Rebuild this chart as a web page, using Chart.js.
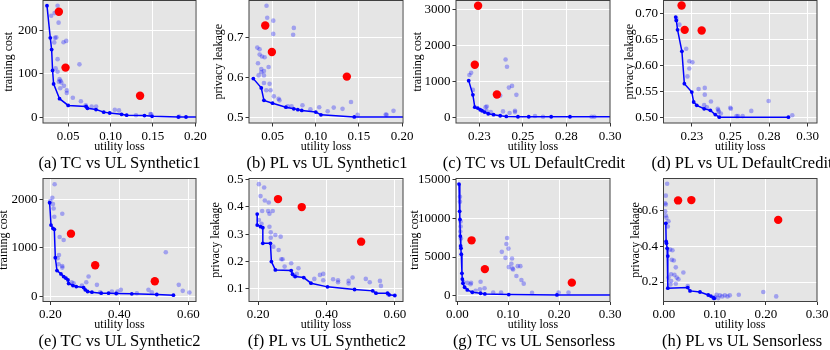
<!DOCTYPE html>
<html>
<head>
<meta charset="utf-8">
<script src="https://cdn.jsdelivr.net/npm/chart.js@4"></script>
<style>
  body { margin: 0; width: 830px; height: 350px; overflow: hidden; background: #fff; position: relative; font-family: 'Liberation Serif', 'Times New Roman', serif; }
  canvas { position: absolute; }
  .cap { position: absolute; font-size: 16.5px; line-height: 19px; white-space: nowrap; transform: translateX(-50%); color: #000; }
</style>
</head>
<body>
<script>
// ---- data (utility loss, cost / leakage) ----
// Pareto fronts (blue line), all other configs (light dots), baselines (red)
const aFront = [[0.025,257],[0.0289,183],[0.0305,156],[0.0316,108],[0.0328,77],[0.0398,43],[0.05,27.5],[0.0711,25],[0.0727,21],[0.0828,18],[0.092,12],[0.099,10],[0.113,7],[0.119,5],[0.140,4],[0.149,2.3],[0.18,0.8],[0.189,0.8],[0.215,0.5]];
const aCloud = [[0.030,234],[0.034,240],[0.0375,257],[0.0387,218],[0.0344,183],[0.0336,172.5],[0.036,184],[0.0445,173],[0.0477,176],[0.0375,134],[0.0352,113],[0.0375,105],[0.0398,88],[0.041,84],[0.042,80],[0.039,82],[0.045,72.5],[0.0406,67],[0.0484,62],[0.0484,56],[0.0555,45],[0.0633,122],[0.065,37],[0.0707,28],[0.0777,25],[0.083,25],[0.105,17.5],[0.11,16],[0.13,5],[0.147,7.6],[0.148,7],[0.181,2]];
const aRed = [[0.039,243],[0.0469,114.5],[0.1348,49.6]];

const bFront = [[0.0277,0.597],[0.0369,0.574],[0.040,0.543],[0.05,0.536],[0.0654,0.526],[0.0746,0.522],[0.0792,0.520],[0.0838,0.518],[0.10,0.514],[0.106,0.507],[0.1446,0.502],[0.215,0.502]];
const bCloud = [[0.043,0.778],[0.0438,0.748],[0.0508,0.741],[0.0508,0.708],[0.0746,0.723],[0.0738,0.706],[0.0323,0.674],[0.035,0.670],[0.035,0.657],[0.0377,0.652],[0.0408,0.650],[0.0331,0.635],[0.0369,0.621],[0.04,0.616],[0.0454,0.626],[0.0369,0.613],[0.0338,0.605],[0.04,0.605],[0.0465,0.584],[0.04,0.586],[0.0427,0.568],[0.0477,0.568],[0.0515,0.553],[0.057,0.547],[0.058,0.543],[0.0677,0.528],[0.072,0.528],[0.0846,0.531],[0.0938,0.521],[0.104,0.526],[0.1138,0.516],[0.1208,0.525],[0.131,0.522],[0.1408,0.539],[0.1485,0.507],[0.181,0.508],[0.182,0.507],[0.19,0.517]];
const bRed = [[0.0415,0.729],[0.0492,0.663],[0.136,0.602]];

const cFront = [[0.2188,1021],[0.2212,626],[0.2223,285],[0.224,258],[0.2254,212],[0.2265,184],[0.2279,147],[0.23,101],[0.2331,74],[0.2369,46],[0.2404,28],[0.2471,18],[0.2533,18],[0.2662,18],[0.277,18],[0.31,18]];
const cCloud = [[0.2192,1178],[0.2202,1242],[0.2212,764],[0.2285,285],[0.2292,304],[0.2369,607],[0.24,1610],[0.2408,1408],[0.2419,828],[0.2437,874],[0.2462,626],[0.2454,184],[0.2454,147],[0.2315,147],[0.2385,166],[0.2423,120],[0.2569,37],[0.2615,18],[0.2894,18],[0.291,18],[0.229,184]];
const cRed = [[0.2242,3100],[0.2223,1463],[0.235,635]];

const dFront = [[0.2146,0.6924],[0.215,0.686],[0.2158,0.668],[0.2186,0.627],[0.2202,0.565],[0.225,0.549],[0.2262,0.530],[0.2282,0.5236],[0.233,0.517],[0.237,0.514],[0.2402,0.506],[0.2428,0.501],[0.2875,0.501]];
const dCloud = [[0.217,0.678],[0.215,0.689],[0.2214,0.632],[0.2234,0.608],[0.2254,0.606],[0.2234,0.594],[0.2222,0.579],[0.2294,0.555],[0.2334,0.557],[0.2334,0.544],[0.2374,0.531],[0.233,0.524],[0.2348,0.520],[0.2418,0.517],[0.2422,0.514],[0.2424,0.511],[0.2438,0.508],[0.2499,0.519],[0.2503,0.517],[0.2539,0.503],[0.2549,0.503],[0.2579,0.503],[0.2635,0.513],[0.2747,0.532],[0.29,0.5045]];
const dRed = [[0.2184,0.7147],[0.2204,0.668],[0.2314,0.6669]];

const eFront = [[0.198,1932],[0.202,1473],[0.2077,1404],[0.2116,1384],[0.2145,801],[0.2193,534],[0.2308,466],[0.2386,411],[0.2453,377],[0.2511,342],[0.253,267],[0.2655,226],[0.2752,205],[0.2964,185],[0.3012,137],[0.308,103],[0.3205,89],[0.3475,68],[0.3687,68],[0.3908,62],[0.436,55],[0.5084,41],[0.5566,27]];
const eCloud = [[0.2125,2315],[0.2058,2034],[0.2077,1904],[0.2096,1815],[0.2116,1644],[0.2,1966],[0.2347,1705],[0.227,1226],[0.2386,1164],[0.2251,856],[0.2212,788],[0.2347,630],[0.2347,596],[0.2241,664],[0.2617,295],[0.2675,274],[0.3041,295],[0.3108,411],[0.335,240],[0.3783,103],[0.3947,103],[0.4043,137],[0.4506,68],[0.4843,137],[0.494,89],[0.5345,911],[0.5721,240],[0.5836,116],[0.6029,82],[0.3446,89],[0.2916,226]];
const eRed = [[0.2598,1295],[0.330,644],[0.5027,315]];

const fFront = [[0.197,0.3736],[0.197,0.3334],[0.2068,0.3274],[0.2135,0.3237],[0.2135,0.2666],[0.2357,0.2666],[0.2386,0.1997],[0.2502,0.1693],[0.2966,0.1669],[0.3005,0.1535],[0.3082,0.145],[0.3333,0.1413],[0.3546,0.1207],[0.403,0.1073],[0.4821,0.0976],[0.5353,0.0927],[0.545,0.0842],[0.5787,0.0842],[0.5836,0.0781],[0.60,0.0757]];
const fCloud = [[0.2019,0.483],[0.2174,0.4708],[0.2068,0.4392],[0.2193,0.4234],[0.2309,0.4161],[0.229,0.3845],[0.2329,0.3748],[0.2425,0.3845],[0.2116,0.3845],[0.2019,0.3517],[0.2096,0.3383],[0.2329,0.3274],[0.2367,0.3067],[0.2502,0.297],[0.2657,0.2909],[0.2367,0.2872],[0.2444,0.2544],[0.2599,0.2423],[0.2676,0.2082],[0.2715,0.2082],[0.2773,0.1815],[0.2966,0.1936],[0.3179,0.1754],[0.3131,0.1547],[0.3063,0.1474],[0.3643,0.1365],[0.3807,0.1511],[0.3904,0.1547],[0.3904,0.1316],[0.4193,0.1353],[0.4338,0.1316],[0.4338,0.1243],[0.4647,0.1292],[0.4647,0.1195],[0.4763,0.1413],[0.515,0.1365],[0.5266,0.1243],[0.5565,0.1292],[0.5594,0.1109],[0.5807,0.0805]];
const fRed = [[0.258,0.4283],[0.3275,0.3991],[0.5014,0.2726]];

const gFront = [[0.0033,14400],[0.0046,10900],[0.0052,9840],[0.0059,7710],[0.0065,6430],[0.0072,6130],[0.0078,5370],[0.0091,2900],[0.0098,2170],[0.0111,1620],[0.0144,1110],[0.0196,770],[0.0294,470],[0.0457,340],[0.0541,255],[0.1011,170],[0.1957,128],[0.31,110]];
const gCloud = [[0.0052,12780],[0.0052,12140],[0.0065,9585],[0.0065,8946],[0.0059,8300],[0.0072,7400],[0.026,1490],[0.0457,1830],[0.0535,980],[0.0705,426],[0.086,426],[0.027,1700],[0.0117,1830],[0.0196,1700],[0.0978,7455],[0.0965,6690],[0.1005,6090],[0.0874,5670],[0.0946,4900],[0.1011,3710],[0.1063,4130],[0.1076,4810],[0.1083,3540],[0.1096,3410],[0.1187,3830],[0.1239,3830],[0.1161,2560],[0.1259,2045],[0.1305,1576],[0.1468,383],[0.199,426],[0.2185,426],[0.0444,850],[0.0359,640]];
const gRed = [[0.028,7157],[0.0541,3450],[0.225,1704]];

const hFront = [[0.0039,0.5308],[0.0045,0.4288],[0.0052,0.419],[0.0065,0.390],[0.0078,0.346],[0.0078,0.1654],[0.0468,0.169],[0.0513,0.150],[0.0708,0.144],[0.087,0.127],[0.0922,0.121],[0.0968,0.1115],[0.0987,0.1077]];
const hCloud = [[0.0065,0.7538],[0.0039,0.6865],[0.0026,0.644],[0.0039,0.6365],[0.0026,0.598],[0.0039,0.575],[0.0052,0.5615],[0.0091,0.542],[0.0078,0.513],[0.0123,0.3827],[0.0169,0.3788],[0.0156,0.325],[0.0195,0.3212],[0.0234,0.2827],[0.0383,0.2538],[0.0091,0.225],[0.0143,0.2442],[0.0208,0.2404],[0.0253,0.225],[0.0143,0.2058],[0.013,0.1865],[0.0234,0.1904],[0.0286,0.2154],[0.0468,0.177],[0.1,0.1135],[0.1032,0.1288],[0.1097,0.125],[0.1143,0.1192],[0.1195,0.125],[0.1247,0.1192],[0.1292,0.125],[0.1468,0.1288],[0.1948,0.1442],[0.2201,0.1192],[0.1065,0.1096]];
const hRed = [[0.0279,0.6596],[0.0539,0.6615],[0.224,0.55]];

// ---- ticks ----
const xTicksSyn1 = [0.05, 0.10, 0.15, 0.20];
const xLabelsSyn1 = ['0.05', '0.10', '0.15', '0.20'];
const xTicksCredit = [0.225, 0.25, 0.275, 0.30];
const xLabelsCredit = ['0.23', '0.25', '0.28', '0.30'];
const xTicksSyn2 = [0.2, 0.4, 0.6];
const xLabelsSyn2 = ['0.20', '0.40', '0.60'];
const xTicksSens = [0, 0.1, 0.2, 0.3];
const xLabelsSens = ['0.00', '0.10', '0.20', '0.30'];

const yTicksA = [0, 100, 200];
const yTicksB = [0.5, 0.6, 0.7];
const yTicksC = [0, 1000, 2000, 3000];
const yTicksD = [0.50, 0.55, 0.60, 0.65, 0.70];
const yTicksE = [0, 1000, 2000];
const yTicksF = [0.1, 0.2, 0.3, 0.4, 0.5];
const yTicksG = [0, 5000, 10000, 15000];
const yTicksH = [0.2, 0.4, 0.6];

const captions = ['(a) TC vs UL Synthetic1', '(b) PL vs UL Synthetic1', '(c) TC vs UL DefaultCredit', '(d) PL vs UL DefaultCredit',
                  '(e) TC vs UL Synthetic2', '(f) PL vs UL Synthetic2', '(g) TC vs UL Sensorless', '(h) PL vs UL Sensorless'];

Chart.defaults.font.family = "'Liberation Serif', 'Times New Roman', serif";
Chart.defaults.color = '#000';

const colL = [43, 249, 456, 663.5], colR = [196, 403, 610, 817];
const rowT = [0.5, 178.5], rowB = [123, 301.5];
const capX = [119.5, 327, 534, 742], capY = [163, 341];

// grey panel + dark frame
const frame = {
  id: 'frame',
  beforeDraw(chart) {
    const { ctx, chartArea: a } = chart;
    ctx.save();
    ctx.fillStyle = '#e5e5e5';
    ctx.fillRect(a.left, a.top, a.width, a.height);
    ctx.restore();
  },
  afterDraw(chart) {
    const { ctx, chartArea: a } = chart;
    ctx.save();
    ctx.strokeStyle = '#404040';
    ctx.lineWidth = 1;
    ctx.strokeRect(a.left, a.top, a.width, a.height);
    ctx.restore();
  }
};

const pts = arr => arr.map(([x, y]) => ({ x, y }));

function panel(col, row, p) {
  const L = colL[col], R = colR[col], T = rowT[row], B = rowB[row];
  const xH = 31;
  const left = Math.floor(L - (p.tOff + 7.2));
  const top = Math.floor(T - 10);
  const yW = L - left;
  const width = Math.ceil(R - left + 16);
  const height = Math.ceil(B - top + xH + 2);
  const padR = width - (R - left);
  const padT = T - top;
  const padB = height - (B - top) - xH;

  const cv = document.createElement('canvas');
  cv.width = width; cv.height = height;
  cv.style.left = left + 'px'; cv.style.top = top + 'px';
  cv.style.width = width + 'px'; cv.style.height = height + 'px';
  document.body.appendChild(cv);

  const tickFont = { size: 13 };
  new Chart(cv, {
    type: 'scatter',
    data: {
      datasets: [
        { data: pts(p.red), backgroundColor: '#ff0000', pointRadius: 4.2, pointBorderWidth: 0, order: 0 },
        { data: pts(p.front), showLine: true, borderColor: '#0000ff', borderWidth: 1.5, backgroundColor: '#0000ff',
          pointRadius: 1.9, pointBorderWidth: 0, order: 1 },
        { data: pts(p.cloud), backgroundColor: 'rgba(0,0,255,0.3)', pointRadius: 2.3, pointBorderWidth: 0, order: 2 }
      ]
    },
    options: {
      responsive: false,
      animation: false,
      devicePixelRatio: 1,
      layout: { padding: { left: 0, top: padT, right: padR, bottom: padB } },
      plugins: { legend: { display: false }, tooltip: { enabled: false } },
      scales: {
        x: {
          type: 'linear', min: p.xMin, max: p.xMax,
          afterBuildTicks: s => { s.ticks = p.xTicks.map(v => ({ value: v })); },
          afterFit: s => { s.height = xH; s.paddingLeft = 0; s.paddingRight = 0; },
          ticks: { font: tickFont, padding: 2, maxRotation: 0, autoSkip: false, callback: (v, i) => p.xLabels[i] },
          grid: { color: '#ffffff', lineWidth: 1, tickLength: 3.5, tickColor: '#333' },
          border: { display: false },
          title: { display: true, text: 'utility loss', font: { size: 12 }, padding: 0 }
        },
        y: {
          type: 'linear', min: p.yMin, max: p.yMax,
          afterBuildTicks: s => { s.ticks = p.yTicks.map(v => ({ value: v })); },
          afterFit: s => { s.width = yW; s.paddingTop = 0; s.paddingBottom = 0; },
          ticks: { font: tickFont, padding: 2, autoSkip: false, callback: (v, i) => p.yLabels[i] },
          grid: { color: '#ffffff', lineWidth: 1, tickLength: 3.5, tickColor: '#333' },
          border: { display: false },
          title: { display: true, text: p.yTitle, font: { size: 12 }, padding: 0 }
        }
      }
    },
    plugins: [frame]
  });

  const cap = document.createElement('div');
  cap.className = 'cap';
  cap.textContent = captions[row * 4 + col];
  cap.style.left = capX[col] + 'px';
  cap.style.top = (capY[row] - 10) + 'px';
  document.body.appendChild(cap);
}

const fmt = d => v => v.toFixed(d);

panel(0, 0, { xMin: 0.0203, xMax: 0.2008, yMin: -13, yMax: 269, xTicks: xTicksSyn1, xLabels: xLabelsSyn1,
  yTicks: yTicksA, yLabels: yTicksA.map(fmt(0)), yTitle: 'training cost', tOff: 33, front: aFront, cloud: aCloud, red: aRed });
panel(1, 0, { xMin: 0.0227, xMax: 0.201, yMin: 0.4868, yMax: 0.791, xTicks: xTicksSyn1, xLabels: xLabelsSyn1,
  yTicks: yTicksB, yLabels: yTicksB.map(fmt(1)), yTitle: 'privacy leakage', tOff: 29, front: bFront, cloud: bCloud, red: bRed });
panel(2, 0, { xMin: 0.2115, xMax: 0.30, yMin: -156, yMax: 3247, xTicks: xTicksCredit, xLabels: xLabelsCredit,
  yTicks: yTicksC, yLabels: yTicksC.map(fmt(0)), yTitle: 'training cost', tOff: 37, front: cFront, cloud: cCloud, red: cRed });
panel(3, 0, { xMin: 0.2067, xMax: 0.306, yMin: 0.4898, yMax: 0.7242, xTicks: xTicksCredit, xLabels: xLabelsCredit,
  yTicks: yTicksD, yLabels: yTicksD.map(fmt(2)), yTitle: 'privacy leakage', tOff: 33, front: dFront, cloud: dCloud, red: dRed });
panel(0, 1, { xMin: 0.1788, xMax: 0.622, yMin: -103, yMax: 2432, xTicks: xTicksSyn2, xLabels: xLabelsSyn2,
  yTicks: yTicksE, yLabels: yTicksE.map(fmt(0)), yTitle: 'training cost', tOff: 38, front: eFront, cloud: eCloud, red: eRed });
panel(1, 1, { xMin: 0.173, xMax: 0.624, yMin: 0.0538, yMax: 0.5036, xTicks: xTicksSyn2, xLabels: xLabelsSyn2,
  yTicks: yTicksF, yLabels: yTicksF.map(fmt(1)), yTitle: 'privacy leakage', tOff: 32, front: fFront, cloud: fCloud, red: fRed });
panel(2, 1, { xMin: -0.0026, xMax: 0.30, yMin: -724, yMax: 15123, xTicks: xTicksSens, xLabels: xLabelsSens,
  yTicks: yTicksG, yLabels: yTicksG.map(fmt(0)), yTitle: 'training cost', tOff: 40, front: gFront, cloud: gCloud, red: gRed });
panel(3, 1, { xMin: -0.00065, xMax: 0.30, yMin: 0.0904, yMax: 0.783, xTicks: xTicksSens, xLabels: xLabelsSens,
  yTicks: yTicksH, yLabels: yTicksH.map(fmt(1)), yTitle: 'privacy leakage', tOff: 27, front: hFront, cloud: hCloud, red: hRed });
</script>
</body>
</html>
